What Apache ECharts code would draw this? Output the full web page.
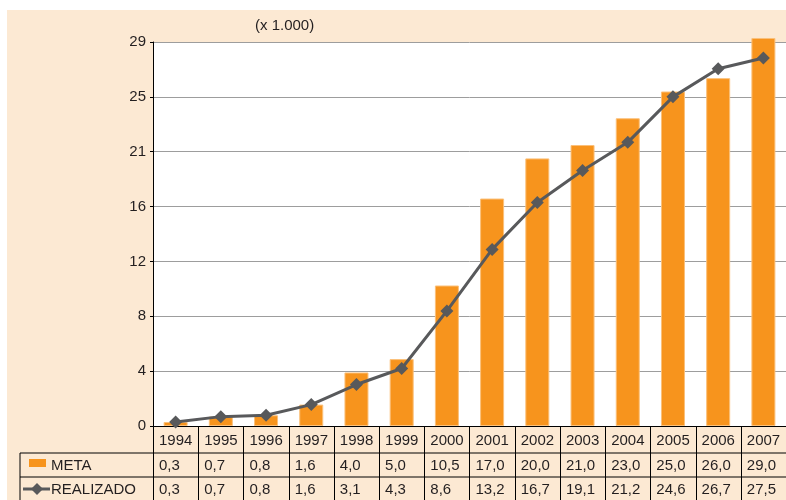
<!DOCTYPE html>
<html><head><meta charset="utf-8">
<script src="https://cdn.jsdelivr.net/npm/echarts@6/dist/echarts.min.js"></script>
<style>
html,body{margin:0;padding:0;background:#fff;}
#wrap{position:relative;width:786px;height:500px;overflow:hidden;}
#bg{position:absolute;left:7px;top:10px;width:779px;height:490px;background:#fce9d3;}
#chart{position:absolute;left:0;top:0;width:786px;height:500px;}
</style></head><body>
<div id="wrap"><div id="bg"></div><div id="chart"></div></div>
<script>
const years = ['1994','1995','1996','1997','1998','1999','2000','2001','2002','2003','2004','2005','2006','2007'];
const meta = [0.3,0.7,0.8,1.6,4.0,5.0,10.5,17.0,20.0,21.0,23.0,25.0,26.0,29.0];
const realizado = [0.3,0.7,0.8,1.6,3.1,4.3,8.6,13.2,16.7,19.1,21.2,24.6,26.7,27.5];
const yLabels = ['0','4','8','12','16','21','25','29'];
const unitNote = '(x 1.000)';
const seriesNames = ['META','REALIZADO'];

const FONT = "'Liberation Sans', Arial, sans-serif";
const TXT = '#231f20';
const ORANGE = '#f7941d';
const GREY = '#58595b';

const chart = echarts.init(document.getElementById('chart'), null, {renderer:'canvas'});
const fmt = v => v.toFixed(1).replace('.', ',');

chart.setOption({
  backgroundColor: 'transparent',
  animation: false,
  title: {
    text: unitNote, left: 255, top: 18, padding: 0,
    textStyle: {fontFamily: FONT, fontSize: 15, fontWeight: 'normal', color: TXT}
  },
  grid: {left: 153, right: 0, top: 42, bottom: 74, show: true, backgroundColor: '#fff', borderWidth: 0, containLabel: false},
  xAxis: {
    type: 'category', data: years, boundaryGap: true,
    axisLine: {show: true, lineStyle: {color: '#000', width: 1}},
    axisTick: {show: false}, axisLabel: {show: false}, splitLine: {show: false}
  },
  yAxis: {
    type: 'value', min: 0, max: 28.7, interval: 4.1,
    axisLine: {show: true, lineStyle: {color: '#000', width: 1}},
    axisTick: {show: true, length: 3, lineStyle: {color: '#000'}},
    axisLabel: {
      margin: 7, fontFamily: FONT, fontSize: 15, color: TXT, padding: [0,0,10,0],
      formatter: (v, i) => yLabels[i]
    },
    splitLine: {show: true, lineStyle: {color: '#9d9d9d', width: 1}}
  },
  series: [
    {name: seriesNames[0], type: 'bar', data: meta, barWidth: 24, clip: false,
     itemStyle: {color: ORANGE, borderColor: '#fbc07a', borderWidth: 1}, z: 2},
    {name: seriesNames[1], type: 'line', data: realizado, clip: false,
     lineStyle: {color: GREY, width: 3}, itemStyle: {color: GREY},
     symbol: 'diamond', symbolSize: 13, z: 3}
  ]
});

// Table below the chart, positioned from the category axis
const c0 = chart.convertToPixel({xAxisIndex: 0}, 0);
const c1 = chart.convertToPixel({xAxisIndex: 0}, 1);
const colW = c1 - c0;
const tableLeft = c0 - colW / 2;
const axisY = chart.convertToPixel({yAxisIndex: 0}, 0);
const rowY = [axisY, axisY + 27, axisY + 51, axisY + 75];
const legendLeft = 20;
const W = 786;
const els = [];
const line = (x1,y1,x2,y2) => els.push({type:'line', shape:{x1,y1,x2,y2}, style:{stroke:'#000', lineWidth:1}, silent:true});
const text = (x,y,t) => els.push({type:'text', x, y, style:{text:t, fontFamily:FONT, fontSize:15, fill:TXT, align:'left', verticalAlign:'middle'}, silent:true});

line(legendLeft, rowY[1], W, rowY[1]);
line(legendLeft, rowY[2], W, rowY[2]);
line(legendLeft, rowY[3], W, rowY[3]);
line(legendLeft, rowY[1], legendLeft, rowY[3]);
for (let i = 0; i <= years.length; i++) {
  const x = Math.round(tableLeft + i * colW) + 0.5;
  line(x, rowY[0], x, rowY[3]);
}
years.forEach((y, i) => {
  const xl = tableLeft + i * colW + 6;
  text(xl, (rowY[0] + rowY[1]) / 2 + 1, y);
  text(xl, (rowY[1] + rowY[2]) / 2 + 1, fmt(meta[i]));
  text(xl, (rowY[2] + rowY[3]) / 2 + 1, fmt(realizado[i]));
});
// legend cells
const mY = (rowY[1] + rowY[2]) / 2;
const rY = (rowY[2] + rowY[3]) / 2;
els.push({type:'rect', shape:{x:29, y:mY - 6, width:17, height:8}, style:{fill:ORANGE}, silent:true});
text(51, mY + 1, seriesNames[0]);
els.push({type:'line', shape:{x1:23, y1:rY, x2:50, y2:rY}, style:{stroke:GREY, lineWidth:3}, silent:true});
els.push({type:'polygon', shape:{points:[[37, rY-6],[43, rY],[37, rY+6],[31, rY]]}, style:{fill:GREY}, silent:true});
text(51, rY + 1, seriesNames[1]);

chart.setOption({graphic: {elements: els}});
</script>
</body></html>
